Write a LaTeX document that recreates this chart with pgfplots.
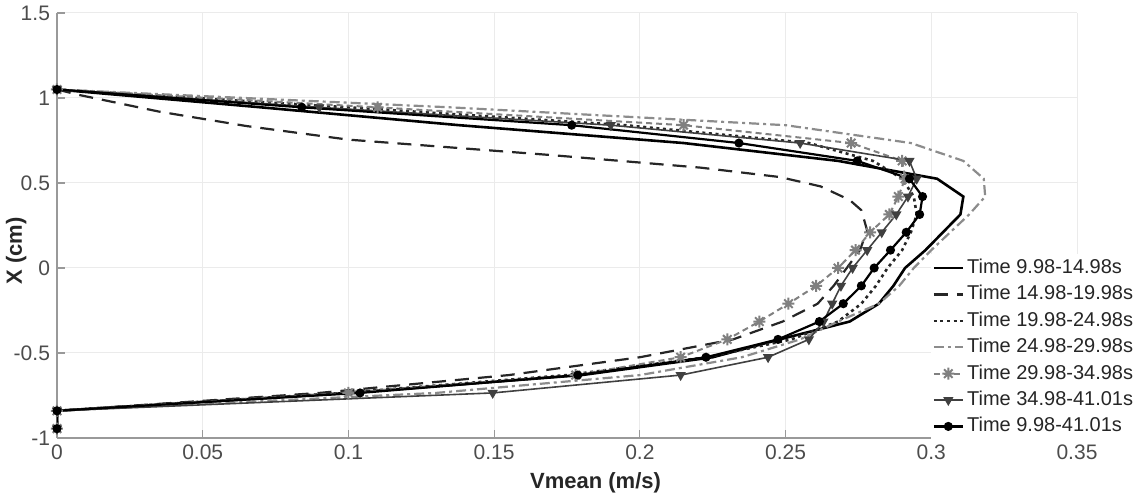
\documentclass[border=0pt]{standalone}
\usepackage{pgfplots}
\usepackage{pgfplotstable}
\pgfplotsset{compat=1.18}
\usepackage{fontspec}
\setmainfont{Liberation Sans}

\pgfdeclareplotmark{mstar}{%
  \pgfpathmoveto{\pgfqpoint{-\pgfplotmarksize}{0pt}}\pgfpathlineto{\pgfqpoint{\pgfplotmarksize}{0pt}}%
  \pgfpathmoveto{\pgfqpoint{0pt}{-\pgfplotmarksize}}\pgfpathlineto{\pgfqpoint{0pt}{\pgfplotmarksize}}%
  \pgfpathmoveto{\pgfqpoint{-0.707\pgfplotmarksize}{-0.707\pgfplotmarksize}}\pgfpathlineto{\pgfqpoint{0.707\pgfplotmarksize}{0.707\pgfplotmarksize}}%
  \pgfpathmoveto{\pgfqpoint{-0.707\pgfplotmarksize}{0.707\pgfplotmarksize}}\pgfpathlineto{\pgfqpoint{0.707\pgfplotmarksize}{-0.707\pgfplotmarksize}}%
  \pgfusepathqstroke}

\pgfplotstableread{
X      A      C      D      E      F      G
1.05   0      0      0      0      0      0
0.945  0.07   0.10   0.135  0.11   0.09   0.084
0.84   0.138  0.195  0.25   0.215  0.19   0.1766
0.735  0.215  0.258  0.293  0.2725 0.255  0.234
0.63   0.268  0.28   0.311  0.29   0.2925 0.2746
0.525  0.302  0.29   0.318  0.291  0.295  0.2925
0.42   0.311  0.294  0.3185 0.2887 0.292  0.297
0.315  0.310  0.295  0.313  0.2856 0.288  0.296
0.21   0.304  0.293  0.3065 0.279  0.283  0.2914
0.105  0.298  0.29   0.30   0.274  0.278  0.286
0      0.291  0.285  0.294  0.268  0.273  0.2804
-0.105 0.287  0.281  0.289  0.2605 0.269  0.276
-0.21  0.282  0.276  0.282  0.251  0.266  0.2698
-0.315 0.272  0.268  0.268  0.241  0.263  0.2616
-0.42  0.248  0.252  0.255  0.23   0.258  0.2474
-0.525 0.225  0.223  0.235  0.214  0.244  0.2227
-0.63  0.180  0.175  0.20   0.178  0.214  0.1787
-0.735 0.100  0.098  0.13   0.10   0.1495 0.104
-0.84  0      0      0      0      0      0
-0.945 0      0      0      0      0      0
}\datatable

\pgfplotstableread{
X      B
1.05   0
1.02   0.007
0.92   0.035
0.835  0.065
0.755  0.10
0.665  0.169
0.59   0.221
0.535  0.248
0.48   0.262
0.40   0.272
0.34   0.276
0.22   0.278
0.105  0.2755
0      0.271
-0.105 0.2665
-0.21  0.261
-0.315 0.249
-0.42  0.232
-0.525 0.20
-0.63  0.155
-0.735 0.09
-0.84  0
-0.945 0
}\tableB

\begin{document}
\begin{tikzpicture}
\begin{axis}[
  name=ax,
  scale only axis, width=510pt, height=212.5pt,
  xmin=0, xmax=0.35, ymin=-1, ymax=1.5,
  axis x line*=bottom, axis y line*=left,
  axis line style={black!40, line width=0.6pt, -},
  xtick={0,0.05,0.1,0.15,0.2,0.25,0.3,0.35},
  xticklabels={0,0.05,0.1,0.15,0.2,0.25,0.3,0.35},
  ytick={-1,-0.5,0,0.5,1,1.5},
  yticklabels={-1,-0.5,0,0.5,1,1.5},
  tick align=inside, major tick length=4pt,
  tick style={black!40, line width=0.6pt},
  grid=major, grid style={black!8, line width=0.5pt},
  ticklabel style={font=\fontsize{10.5}{12}\selectfont, text=black!70},
  xlabel={Vmean (m/s)}, ylabel={X (cm)},
  label style={font=\bfseries\fontsize{11}{13}\selectfont, text=black!85},
  xlabel style={at={(axis description cs:0.528,-0.106)}, anchor=center},
  ylabel style={at={(axis description cs:-0.04,0.44)}, anchor=center},
  legend style={at={(axis description cs:0.856,0.435)}, anchor=north west,
    draw=none, fill=white, font=\fontsize{10}{12}\selectfont,
    row sep=0.7pt, inner xsep=1pt, inner ysep=1pt,
    nodes={text height=7.5pt, text depth=2pt, inner sep=1.5pt, text=black!85},
    cells={anchor=west}},
  legend image code/.code={\draw[mark repeat=2,mark phase=2,#1] plot coordinates {(0pt,0pt)(7.25pt,0pt)(14.5pt,0pt)};},
]
\addplot[black, line width=1.3pt, no marks] table[x=A, y=X] {\datatable};
\addlegendentry{Time 9.98-14.98s}
\addplot[black!85, line width=1.1pt, dash pattern=on 7pt off 4.5pt, no marks] table[x=B, y=X] {\tableB};
\addlegendentry{Time 14.98-19.98s}
\addplot[black!85, line width=1.3pt, dash pattern=on 1.5pt off 1.8pt, no marks] table[x=C, y=X] {\datatable};
\addlegendentry{Time 19.98-24.98s}
\addplot[black!45, line width=1.1pt, dash pattern=on 5pt off 2pt on 1.5pt off 2pt, no marks] table[x=D, y=X] {\datatable};
\addlegendentry{Time 24.98-29.98s}
\addplot[black!50, line width=1pt, dash pattern=on 3pt off 2pt, mark=mstar, mark size=3pt, mark options={solid, line width=1pt}] table[x=E, y=X] {\datatable};
\addlegendentry{Time 29.98-34.98s}
\addplot[black!75, line width=0.8pt, mark=triangle*, mark size=2.2pt, mark options={solid, rotate=180}] table[x=F, y=X] {\datatable};
\addlegendentry{Time 34.98-41.01s}
\addplot[black, line width=1.1pt, mark=*, mark size=1.7pt, mark options={solid}] table[x=G, y=X] {\datatable};
\addlegendentry{Time 9.98-41.01s}
\end{axis}
\pgfresetboundingbox
\path[use as bounding box] ([shift={(-28.5pt,-31pt)}]ax.south west) rectangle ([shift={(32pt,6.5pt)}]ax.north east);
\end{tikzpicture}
\end{document}
